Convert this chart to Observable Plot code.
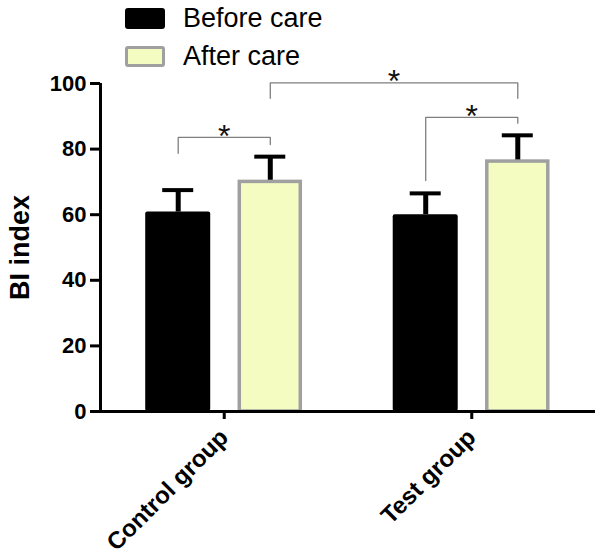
<!DOCTYPE html>
<html><head><meta charset="utf-8">
<script src="https://cdn.jsdelivr.net/npm/d3@7"></script>
<script src="https://cdn.jsdelivr.net/npm/@observablehq/plot@0.6"></script>
<style>
body{margin:0;background:#fff;font-family:"Liberation Sans",Arial,sans-serif;}
#wrap{position:relative;width:600px;height:558px;}
#wrap svg{position:absolute;left:0;top:0;}
.leg{position:absolute;left:125px;height:26px;display:flex;align-items:center;font-size:27px;line-height:26px;color:#000;}
.sw{box-sizing:border-box;width:40px;height:21px;border-radius:3px;margin-right:18px;}
</style></head>
<body><div id="wrap"></div>
<script>
// ---- data ----
const groups = ["Control group", "Test group"];
const conditions = ["Before care", "After care"];
const meanBefore = [60.8, 60.0];
const meanAfter = [70.0, 76.2];
const sdBefore = [6.7, 6.5];
const sdAfter = [7.7, 8.0];
const yTicks = [0, 20, 40, 60, 80, 100];
const bracketFrom = [["Control group", "Before care"], ["Test group", "Before care"], ["Control group", "After care"]];
const bracketTo = [["Control group", "After care"], ["Test group", "After care"], ["Test group", "After care"]];
const bracketTop = [83.6, 89.7, 100.2];
const bracketDropFrom = [78.7, 70.4, 95.5];
const bracketDropTo = [81.4, 87.9, 95.5];
const bracketLabel = ["*", "*", "*"];
const colors = {"Before care": "#000000", "After care": "#f4fcc2"};

// ---- layout helpers ----
const offset = {"Before care": -0.186, "After care": 0.186};
const xPos = (g, c) => groups.indexOf(g) + offset[c];
const half = 0.1313, capHalf = 0.0626;

const bars = groups.flatMap((g, i) => [
  {group: g, cond: conditions[0], mean: meanBefore[i], sd: sdBefore[i]},
  {group: g, cond: conditions[1], mean: meanAfter[i], sd: sdAfter[i]}
]).map(d => ({...d, x: xPos(d.group, d.cond)}));
const before = bars.filter(d => d.cond === conditions[0]);
const after = bars.filter(d => d.cond === conditions[1]);

const brackets = bracketTop.map((t, i) => ({
  id: i, top: t,
  x1: xPos(...bracketFrom[i]), x2: xPos(...bracketTo[i]),
  d1: bracketDropFrom[i], d2: bracketDropTo[i], label: bracketLabel[i]
}));
const bracketPts = brackets.flatMap(b => [
  {id: b.id, x: b.x1, y: b.d1}, {id: b.id, x: b.x1, y: b.top},
  {id: b.id, x: b.x2, y: b.top}, {id: b.id, x: b.x2, y: b.d2}
]);

const FONT = "Liberation Sans, Arial, sans-serif";

const plot = Plot.plot({
  width: 600, height: 558,
  marginLeft: 100, marginRight: 5, marginTop: 83, marginBottom: 147,
  style: {fontFamily: FONT, background: "transparent", overflow: "visible"},
  x: {type: "linear", domain: [-0.5, 1.5]},
  y: {domain: [0, 100]},
  marks: [
    Plot.ruleX(bars, {x: "x", y1: "mean", y2: d => d.mean + d.sd, stroke: "black", strokeWidth: 5}),
    Plot.ruleY(bars, {y: d => d.mean + d.sd, x1: d => d.x - capHalf, x2: d => d.x + capHalf, stroke: "black", strokeWidth: 4}),
    Plot.rect(before, {x1: d => d.x - half, x2: d => d.x + half, y1: d => 0, y2: "mean", fill: colors["Before care"], rx: 2}),
    Plot.rect(after, {x1: d => d.x - half, x2: d => d.x + half, y1: d => 0, y2: "mean", fill: colors["After care"], stroke: "#a0a0a0", strokeWidth: 3.5, insetLeft: 2, insetRight: 2}),
    Plot.line(bracketPts, {x: "x", y: "y", z: "id", stroke: "#7f7f7f", strokeWidth: 1.3}),
    Plot.text(brackets, {x: d => (d.x1 + d.x2) / 2, y: "top", text: "label", fontSize: 32, dy: -1, fill: "#111"}),
    Plot.ruleX([-0.5], {y1: 0, y2: 100, stroke: "black", strokeWidth: 3}),
    Plot.ruleY([0], {stroke: "black", strokeWidth: 3}),
    Plot.axisY({ticks: yTicks, tickSize: 10, tickPadding: 4, fontSize: 22, fontWeight: "bold", strokeWidth: 3, label: null, fontFamily: FONT}),
    Plot.axisX({ticks: [0, 1], tickFormat: i => groups[i], tickRotate: -45, tickSize: 8, tickPadding: 14, fontSize: 24, fontWeight: "bold", strokeWidth: 3, label: null, fontFamily: FONT}),
    Plot.text(["BI index"], {frameAnchor: "left", textAnchor: "middle", rotate: -90, dx: -80, fontSize: 27, fontWeight: "bold", fontFamily: FONT})
  ]
});

const wrap = document.getElementById("wrap");
wrap.appendChild(plot);

// legend
const legendTops = [5, 43];
conditions.forEach((c, i) => {
  const row = document.createElement("div");
  row.className = "leg";
  row.style.top = legendTops[i] + "px";
  const sw = document.createElement("div");
  sw.className = "sw";
  sw.style.background = colors[c];
  if (i === 1) sw.style.border = "3.5px solid #a0a0a0";
  row.appendChild(sw);
  const t = document.createElement("span");
  t.textContent = c;
  row.appendChild(t);
  wrap.appendChild(row);
});
</script>
</body></html>
